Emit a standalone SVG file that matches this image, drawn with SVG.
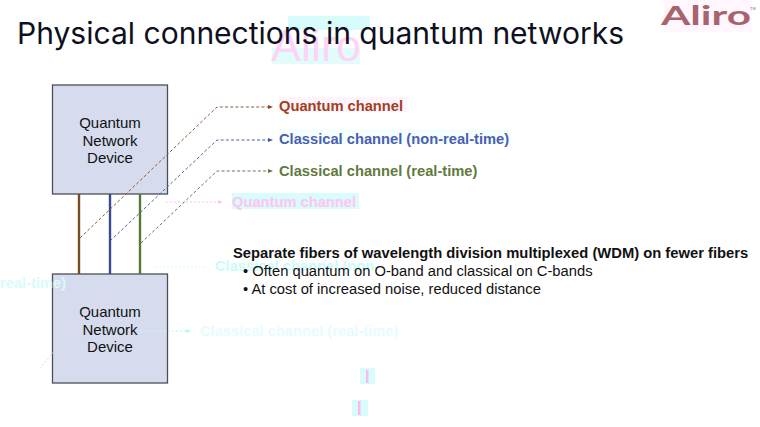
<svg xmlns="http://www.w3.org/2000/svg" width="760" height="427" viewBox="0 0 760 427">
<style>
text{font-family:"Liberation Sans",Arial,sans-serif}
.title{font-family:Inter,"Liberation Sans",sans-serif;font-size:30px;fill:#0d1020}
.box{fill:#d6dcee;stroke:#4b4f55;stroke-width:1.3}
.nl{font-size:15px;fill:#111;text-anchor:middle}
.lb{font-size:14.7px;font-weight:bold}
.b{font-size:14.75px;fill:#111}
.fib{fill:none;stroke-width:2.4}
.dash{fill:none;stroke-width:1;stroke-dasharray:3 2.2}
.ghost{font-size:14.7px;font-weight:bold}
.gl{fill:none;stroke-width:1;stroke-dasharray:2 2}
</style>
<defs>
<marker id="aq" markerWidth="5" markerHeight="4" refX="4" refY="2" orient="auto" markerUnits="userSpaceOnUse"><path d="M0 0L5 2L0 4z" fill="#8a4a25"/></marker>
<marker id="ab" markerWidth="5" markerHeight="4" refX="4" refY="2" orient="auto" markerUnits="userSpaceOnUse"><path d="M0 0L5 2L0 4z" fill="#3f5aa5"/></marker>
<marker id="ag" markerWidth="5" markerHeight="4" refX="4" refY="2" orient="auto" markerUnits="userSpaceOnUse"><path d="M0 0L5 2L0 4z" fill="#5a7a3c"/></marker>
<marker id="ap" markerWidth="5" markerHeight="4" refX="4" refY="2" orient="auto" markerUnits="userSpaceOnUse"><path d="M0 0L5 2L0 4z" fill="#ffc4f2"/></marker>
<marker id="ac" markerWidth="5" markerHeight="4" refX="4" refY="2" orient="auto" markerUnits="userSpaceOnUse"><path d="M0 0L5 2L0 4z" fill="#b8f8f8"/></marker>
</defs>
<g id="artifacts">
<rect x="288" y="16" width="82" height="14" fill="#d8fbfb"/>
<rect x="272" y="48" width="88" height="16" fill="#e2fcfc"/>
<text x="271" y="61" font-size="44" fill="#ffd3f6" textLength="90" lengthAdjust="spacingAndGlyphs">Aliro</text>
<rect x="664" y="0" width="88" height="32" fill="#fff7fd"/>
<rect x="279" y="97" width="128" height="15" fill="#fff4fc"/>
<rect x="279" y="129" width="232" height="15" fill="#f5fefe"/>
<rect x="232" y="193" width="127" height="16" fill="#d8fbfb"/>
<text class="ghost" x="232" y="207" fill="#ffc4f2">Quantum channel</text>
<path class="gl" d="M166 202H222" stroke="#ffc4f2" marker-end="url(#ap)"/>
<text class="ghost" x="215" y="271" fill="#ccfafa">Classical channel (non-</text>
<path class="gl" d="M155 267H206" stroke="#ccfafa"/>
<text class="ghost" x="200" y="336" fill="#e6fcfc">Classical channel (real-time)</text>
<rect x="360" y="368" width="15" height="16" fill="#d8fbfb"/>
<rect x="366" y="370" width="2.500" height="13" fill="#ffb8ee"/>
<rect x="352" y="400" width="16" height="16" fill="#d8fbfb"/>
<rect x="358" y="401" width="2.500" height="14" fill="#ffb8ee"/>
</g>
<text id="title" class="title" x="17" y="44" textLength="607" lengthAdjust="spacingAndGlyphs">Physical connections in quantum networks</text>
<g id="logo"><text x="661" y="25" font-size="26" fill="#a8646c" style="font-family:Lato,sans-serif;font-weight:bold" textLength="90" lengthAdjust="spacingAndGlyphs">Aliro</text><text x="750" y="10" font-size="4" fill="#a8646c">TM</text></g>
<g id="device-top"><rect class="box" x="52.500" y="85" width="115" height="109"/>
<text class="nl" x="110" y="128">Quantum</text><text class="nl" x="110" y="145.500">Network</text><text class="nl" x="110" y="163">Device</text></g>
<g id="device-bottom"><rect class="box" x="52.500" y="274" width="115" height="109"/>
<text class="nl" x="110" y="317">Quantum</text><text class="nl" x="110" y="334.500">Network</text><text class="nl" x="110" y="352">Device</text></g>
<g id="artifacts-over">
<text class="ghost" x="0" y="288" fill="#d8fbfb">real-time)</text>
<path class="gl" d="M140 331H190" stroke="#b8f8f8" marker-end="url(#ac)"/>
<path class="gl" d="M108 288L40 368" stroke="#ffc8f2"/>
</g>
<g id="connectors">
<path class="fib" stroke="#7a4a20" d="M79 194V274"/>
<path class="fib" stroke="#3b4a90" d="M110 194V274"/>
<path class="fib" stroke="#567a35" d="M140 194V274"/>
<path class="dash" stroke="#8a5a3c" d="M80 238L217 107H272" marker-end="url(#aq)"/>
<path class="dash" stroke="#4f62a8" d="M110 241L217 140H272" marker-end="url(#ab)"/>
<path class="dash" stroke="#627a50" d="M141 243L217 171H272" marker-end="url(#ag)"/>
</g>
<g id="labels">
<text class="lb" x="279" y="111" fill="#a0401c">Quantum channel</text>
<text class="lb" x="279" y="144" fill="#4a5fb0">Classical channel (non-real-time)</text>
<text class="lb" x="279" y="176" fill="#5f7a3e">Classical channel (real-time)</text>
</g>
<g id="notes">
<text x="233" y="258" font-size="14.77" font-weight="bold" fill="#111">Separate fibers of wavelength division multiplexed (WDM) on fewer fibers</text>
<text class="b" x="243" y="276">• Often quantum on O-band and classical on C-bands</text>
<text class="b" x="243" y="294">• At cost of increased noise, reduced distance</text>
</g>
</svg>
